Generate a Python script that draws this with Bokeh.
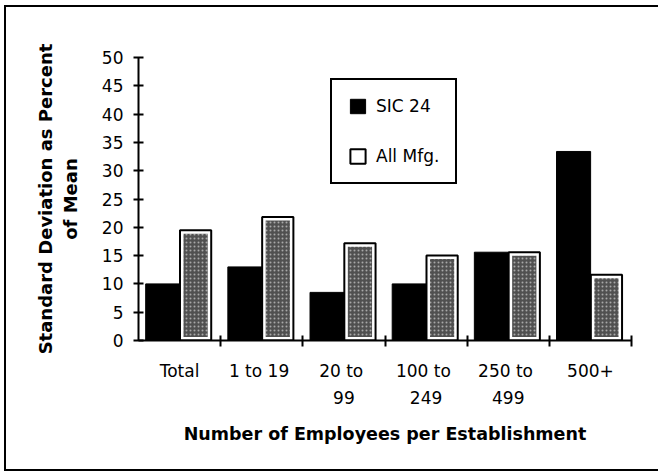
import numpy as np
from bokeh.plotting import figure
from bokeh.models import (Range1d, FixedTicker, Legend, LegendItem, ColumnDataSource)
from bokeh.transform import dodge
from bokeh.embed import file_html
from bokeh.resources import INLINE

# ---- data ----
categories = ["Total", "1  to 19", "20  to\n99", "100  to\n249", "250  to\n499", "500+"]
sic24 = [10.0, 13.0, 8.5, 10.0, 15.6, 33.4]
all_mfg = [19.5, 21.8, 17.2, 15.0, 15.6, 11.6]
y_ticks = [0, 5, 10, 15, 20, 25, 30, 35, 40, 45, 50]

idx = np.arange(len(categories))
src = ColumnDataSource(dict(x=idx, sic=sic24, mfg=all_mfg))

FONT = "DejaVu Sans"

p = figure(width=658, height=472, output_backend="svg", toolbar_location=None,
           x_range=Range1d(-0.5, len(categories) - 0.5), y_range=Range1d(0, 50),
           min_border_left=138, min_border_right=27, min_border_top=57,
           min_border_bottom=132)
p.grid.visible = False
p.outline_line_color = None
p.background_fill_color = "white"
p.border_fill_color = None
# outer page frame (left, top and bottom edges)
p.styles = {"box-shadow": ("inset 4px 5px 0 0 white, inset 0 -1px 0 0 white, "
                           "inset 6px 7px 0 0 black, inset 0 -3px 0 0 black"),
            "background-color": "white"}

# All Mfg. stippled bar with white inner margin
stip = p.vbar(x=dodge("x", 0.195), top="mfg", bottom=0, width=0.38, source=src,
              fill_color="#505050", hatch_pattern="dot", hatch_color="#a8a8a8",
              hatch_scale=4, hatch_weight=1, line_color="white", line_width=7)
sic_r = p.vbar(x=dodge("x", -0.205), top="sic", bottom=0, width=0.415, source=src,
               fill_color="black", line_color="black", line_width=1)
out_r = p.vbar(x=dodge("x", 0.195), top="mfg", bottom=0, width=0.38, source=src,
               fill_color=None, line_color="black", line_width=2)

# x axis
xa = p.xaxis[0]
xa.ticker = FixedTicker(ticks=list(idx), minor_ticks=list(idx + 0.5))
xa.major_label_overrides = {int(i): c for i, c in enumerate(categories)}
xa.major_tick_line_color = None
xa.minor_tick_in = 5
xa.minor_tick_out = 6
xa.minor_tick_line_width = 2
xa.minor_tick_line_color = "black"
xa.axis_line_width = 2
xa.axis_line_color = "black"
xa.major_label_text_font = FONT
xa.major_label_text_font_size = "17px"
xa.major_label_text_color = "black"
xa.major_label_text_line_height = 1.35
xa.major_label_standoff = 14
xa.axis_label = "Number of Employees per Establishment"
xa.axis_label_text_font = FONT
xa.axis_label_text_font_style = "bold"
xa.axis_label_text_font_size = "17.5px"
xa.axis_label_text_color = "black"
xa.axis_label_standoff = 13

# y axis
ya = p.yaxis[0]
ya.ticker = FixedTicker(ticks=y_ticks)
ya.major_tick_in = 5
ya.major_tick_out = 5
ya.major_tick_line_width = 2
ya.minor_tick_line_color = None
ya.axis_line_width = 2
ya.axis_line_color = "black"
ya.major_label_text_font = FONT
ya.major_label_text_font_size = "17px"
ya.major_label_text_color = "black"
ya.major_label_standoff = 10
ya.axis_label = "Standard Deviation as Percent\nof Mean"
ya.axis_label_text_font = FONT
ya.axis_label_text_font_style = "bold"
ya.axis_label_text_font_size = "18px"
ya.axis_label_text_color = "black"
ya.axis_label_text_line_height = 1.18
ya.axis_label_standoff = 18

legend = Legend(items=[LegendItem(label="SIC 24", renderers=[sic_r]),
                       LegendItem(label="All Mfg.", renderers=[out_r])],
                location=(192, 156))
legend.border_line_color = "black"
legend.border_line_alpha = 1
legend.border_line_width = 2
legend.background_fill_color = "white"
legend.background_fill_alpha = 1
legend.label_text_font = FONT
legend.label_text_font_size = "17px"
legend.label_text_color = "black"
legend.glyph_width = 19
legend.glyph_height = 18
legend.label_standoff = 9
legend.padding = 16
legend.spacing = 30
legend.margin = 0
p.add_layout(legend)

open("out.html", "w").write(file_html(p, INLINE))
